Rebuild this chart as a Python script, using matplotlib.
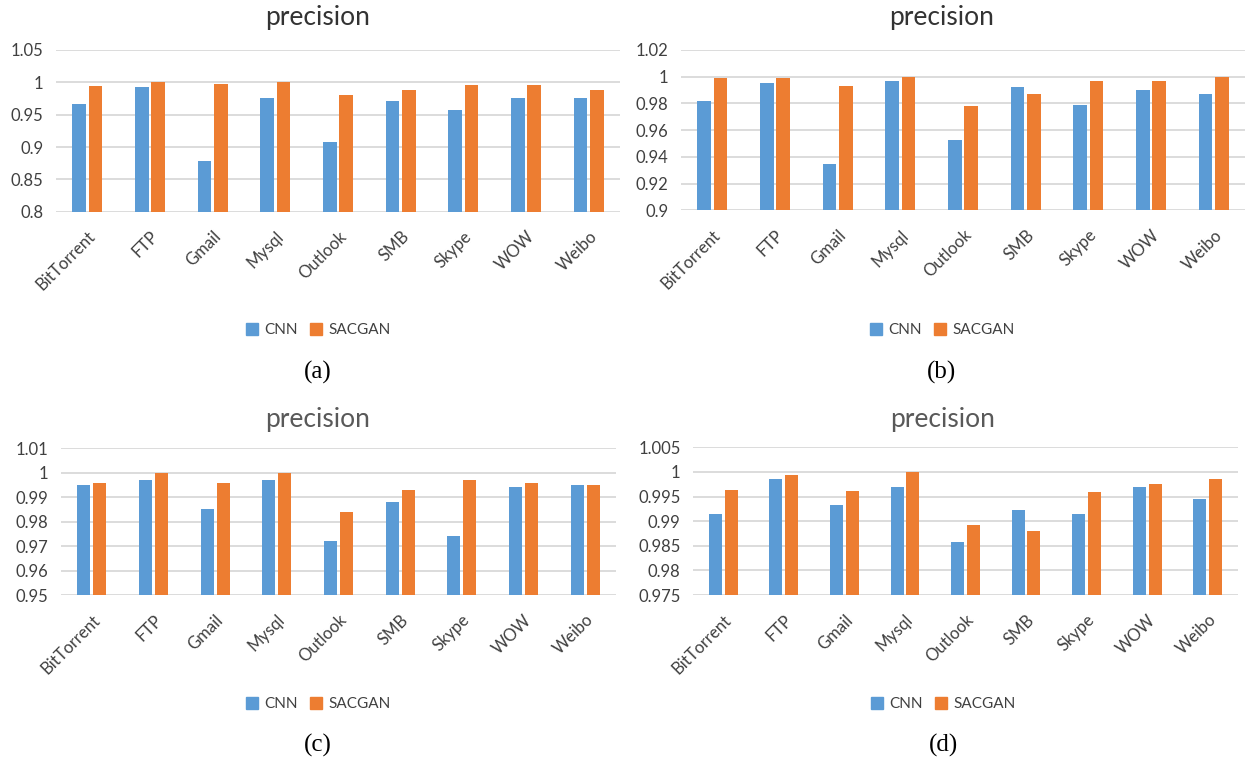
import numpy as np
import matplotlib
matplotlib.use("Agg")
import matplotlib.pyplot as plt
from matplotlib.patches import Patch

plt.rcParams["font.family"] = ["Lato", "DejaVu Sans"]

apps = ["BitTorrent", "FTP", "Gmail", "Mysql", "Outlook", "SMB", "Skype", "WOW", "Weibo"]

# precision per application, four experiments
cnn_a = [0.966, 0.993, 0.879, 0.976, 0.907, 0.971, 0.958, 0.976, 0.976]
sacgan_a = [0.995, 1.000, 0.998, 1.000, 0.981, 0.988, 0.996, 0.996, 0.988]

cnn_b = [0.982, 0.995, 0.935, 0.997, 0.953, 0.992, 0.979, 0.990, 0.987]
sacgan_b = [0.999, 0.999, 0.993, 1.000, 0.978, 0.987, 0.997, 0.997, 1.000]

cnn_c = [0.995, 0.997, 0.985, 0.997, 0.972, 0.988, 0.974, 0.994, 0.995]
sacgan_c = [0.996, 1.000, 0.996, 1.000, 0.984, 0.993, 0.997, 0.996, 0.995]

cnn_d = [0.9914, 0.9986, 0.9933, 0.9969, 0.9858, 0.9923, 0.9914, 0.9969, 0.9944]
sacgan_d = [0.9963, 0.9994, 0.9961, 1.0000, 0.9893, 0.9879, 0.9959, 0.9975, 0.9986]

y_ranges = [(0.8, 1.05, 0.05), (0.9, 1.02, 0.02), (0.95, 1.01, 0.01), (0.975, 1.005, 0.005)]
captions = ["(a)", "(b)", "(c)", "(d)"]

BLUE = "#5B9BD5"
ORANGE = "#ED7D31"
GRID = "#D9D9D9"

W, H = 1247, 765
fig = plt.figure(figsize=(W / 100, H / 100), dpi=100)


def add_px_axes(left, top, right, bottom):
    return fig.add_axes([left / W, 1 - bottom / H, (right - left) / W, (bottom - top) / H])


def draw_panel(box, center_x, cnn, sacgan, yr, caption, title_y, legend_y, caption_y, title_color):
    ax = add_px_axes(*box)
    x = np.arange(len(apps))
    ax.bar(x - 0.13, cnn, width=0.215, color=BLUE, zorder=3)
    ax.bar(x + 0.13, sacgan, width=0.215, color=ORANGE, zorder=3)

    lo, hi, step = yr
    ticks = np.round(np.arange(lo, hi + step / 2, step), 4)
    ax.set_ylim(lo, hi)
    ax.set_yticks(ticks)
    ax.set_yticklabels([f"{t:g}" for t in ticks])
    ax.set_xlim(-0.5, len(apps) - 0.5)
    ax.set_xticks(x)
    ax.set_xticklabels(apps, rotation=45, ha="right", rotation_mode="anchor")

    ax.grid(axis="y", color=GRID, linewidth=1.3, zorder=0)
    for s in ax.spines.values():
        s.set_visible(False)
    ax.tick_params(axis="both", length=0, colors="#404040", labelsize=12)
    ax.tick_params(axis="y", pad=9)
    ax.tick_params(axis="x", pad=12)

    cx = center_x / W
    fig.text(cx, 1 - title_y / H, "precision", ha="center", va="center",
             fontsize=19, color=title_color)

    handles = [Patch(color=BLUE, label="CNN"), Patch(color=ORANGE, label="SACGAN")]
    fig.legend(handles=handles, loc="center", bbox_to_anchor=(cx, 1 - legend_y / H),
               ncol=2, frameon=False, fontsize=11, labelcolor="#404040",
               handlelength=0.8, handleheight=0.8, handletextpad=0.4, columnspacing=0.8)

    fig.text(cx, 1 - caption_y / H, caption, ha="center", va="center",
             fontsize=18, family="Liberation Serif", color="black")


draw_panel((56, 50, 620, 211.7), 318, cnn_a, sacgan_a, y_ranges[0], captions[0], 18, 330, 372, "#333333")
draw_panel((681, 50, 1245, 210.3), 942, cnn_b, sacgan_b, y_ranges[1], captions[1], 18, 330, 372, "#333333")
draw_panel((61, 448.3, 616, 595), 318, cnn_c, sacgan_c, y_ranges[2], captions[2], 419, 704, 745, "#595959")
draw_panel((693, 447.3, 1238, 595), 943, cnn_d, sacgan_d, y_ranges[3], captions[3], 419, 704, 745, "#595959")

fig.savefig("out.png", dpi=100, facecolor="white")
